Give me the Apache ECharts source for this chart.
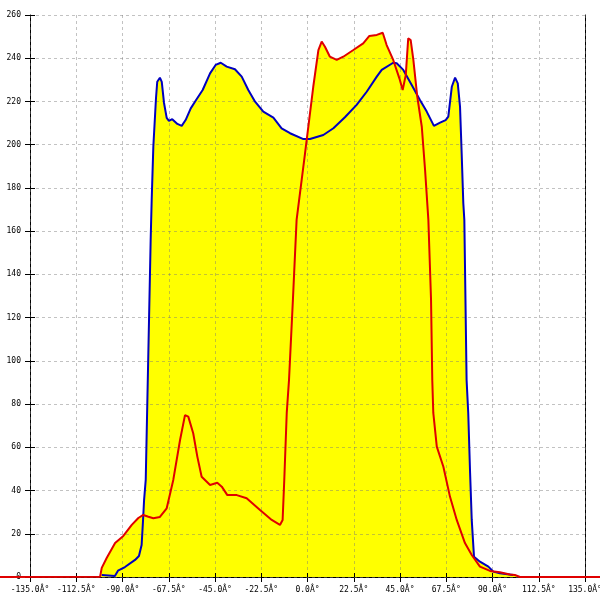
<!DOCTYPE html>
<html><head><meta charset="utf-8">
<script src="https://cdn.jsdelivr.net/npm/echarts@6/dist/echarts.min.js"></script>
<style>html,body{margin:0;padding:0;background:#fff}#c{width:600px;height:600px}</style>
</head><body><div id="c"></div>
<script>
// angle (deg) / intensity pairs
const blueSeries = [
[-100.1,0.9],[-93.7,0.5],[-92.2,2.9],[-88.8,4.6],[-83.9,7.9],[-82.0,9.7],[-80.7,14.8],[-80.0,26.4],[-79.5,35.6],[-78.7,44.9],
[-76.3,155.9],[-75.8,174.4],[-75.0,199.1],[-73.7,221.6],[-73.1,229.1],[-71.8,231.0],[-70.9,229.1],[-69.8,219.3],[-68.5,212.4],
[-67.4,211.0],[-65.8,211.8],[-63.3,209.6],[-61.2,208.7],[-59.3,211.4],[-56.8,216.8],[-54.2,220.7],[-51.0,225.3],[-47.4,233.0],
[-44.7,236.9],[-42.2,237.9],[-39.3,236.1],[-35.3,234.9],[-32.0,231.5],[-28.8,225.3],[-25.5,219.9],[-21.5,215.3],[-16.6,212.5],
[-12.6,207.6],[-8.5,205.3],[-2.0,202.6],[1.2,202.6],[7.7,204.5],[12.6,207.6],[18.2,212.7],[23.9,218.4],[28.8,224.5],[33.7,231.5],
[36.1,234.6],[41.7,237.9],[43.4,237.7],[46.6,234.6],[50.7,227.6],[54.7,220.7],[58.0,215.3],[61.5,208.7],[64.5,210.2],[67.2,211.4],
[68.5,213.0],[70.2,226.8],[71.8,231.0],[73.1,228.4],[74.2,217.6],[75.0,196.0],[75.8,172.9],[76.3,165.2],[77.4,91.1],[78.2,75.9],
[79.1,48.1],[79.9,26.4],[81.0,9.4],[83.9,7.1],[88.0,4.8],[90.4,2.5],[93.6,1.7],[100.1,0.9]
];
const redSeries = [
[-180,0],[-100.9,0.1],[-100.1,4.2],[-97.7,8.8],[-93.6,15.7],[-89.6,19.0],[-85.5,24.1],[-82.3,27.3],[-79.9,28.7],[-77.4,27.9],
[-75.0,27.2],[-71.8,27.8],[-68.5,31.8],[-65.3,44.9],[-62.0,63.4],[-59.6,74.9],[-58.0,74.2],[-55.6,66.5],[-53.6,55.7],[-51.5,46.4],
[-47.4,42.6],[-43.9,43.6],[-41.7,41.8],[-39.0,37.9],[-34.4,37.9],[-29.6,36.4],[-23.1,31.0],[-17.4,26.4],[-13.4,24.1],[-12.1,26.4],
[-11.3,44.9],[-10.1,75.9],[-9.0,91.1],[-7.1,128.2],[-5.3,165.2],[-1.2,196.0],[2.8,226.8],[5.3,243.8],[6.9,247.7],[8.5,245.3],
[10.9,240.7],[14.2,239.2],[17.4,240.7],[22.3,243.8],[27.1,246.9],[30.1,250.3],[33.7,250.8],[36.6,251.8],[38.5,246.1],[41.7,239.2],
[44.7,230.7],[46.3,225.3],[47.8,232.2],[49.0,249.2],[50.2,248.4],[51.5,239.2],[53.4,222.2],[55.6,208.3],[57.2,188.3],[58.8,165.2],
[60.1,128.2],[60.7,91.1],[61.2,75.9],[62.9,60.3],[66.1,51.0],[69.3,37.2],[72.6,26.4],[76.6,15.7],[79.9,10.2],[83.9,4.8],[88.8,2.8],
[93.6,2.2],[98.5,1.2],[100.9,0.9],[103.4,0],[180,0]
];
const xMin = -135, xMax = 135, xStep = 22.5;
const yMin = 0, yMax = 260, yStep = 20;
const xLabel = v => v.toFixed(1) + 'Â°';

// layout (pixels)
const W = 600, L = 30, R = 15, T = 15, B = 23;
const plotW = W - L - R;
const degPerPx = (xMax - xMin) / plotW;
// full-width overlay grid so the red trace runs edge to edge like the original
const fullMin = xMin - L * degPerPx, fullMax = xMax + R * degPerPx;

const font = {fontFamily:'DejaVu Sans Mono', fontSize:8, color:'#000'};
const gridDash = {show:true,lineStyle:{color:'rgba(120,120,120,0.45)',type:[3,3],width:1}};
const chart = echarts.init(document.getElementById('c'));
chart.setOption({
  animation:false,
  backgroundColor:'#fff',
  grid:[
    {left:L,right:R,top:T,bottom:B,containLabel:false,outerBoundsMode:'none'},
    {left:0,right:0,top:T,bottom:B,containLabel:false,outerBoundsMode:'none'}
  ],
  xAxis:[
    {gridIndex:0,type:'value',min:xMin,max:xMax,interval:xStep,position:'bottom',z:0,
     axisLine:{show:true,onZero:false,lineStyle:{color:'#000',width:1}},
     axisTick:{show:true,inside:false,length:5,lineStyle:{color:'#000'}},
     axisLabel:Object.assign({margin:9,formatter:xLabel,showMinLabel:true,showMaxLabel:true,hideOverlap:false},font),
     splitLine:{show:false}},
    {gridIndex:0,type:'value',min:xMin,max:xMax,interval:xStep,position:'bottom',z:3,
     axisLine:{show:false,onZero:false},
     axisTick:{show:true,inside:true,length:4,lineStyle:{color:'#000'}},
     axisLabel:{show:false},
     splitLine:gridDash},
    {gridIndex:1,type:'value',min:fullMin,max:fullMax,show:false}
  ],
  yAxis:[
    {gridIndex:0,type:'value',min:yMin,max:yMax,interval:yStep,position:'left',z:0,
     axisLine:{show:true,onZero:false,lineStyle:{color:'#000',width:1}},
     axisTick:{show:true,inside:false,length:5,lineStyle:{color:'#000'}},
     axisLabel:Object.assign({margin:9},font),
     splitLine:{show:false}},
    {gridIndex:0,type:'value',min:yMin,max:yMax,interval:yStep,position:'right',z:0,
     axisLine:{show:true,onZero:false,lineStyle:{color:'#000',width:1}},
     axisTick:{show:false},axisLabel:{show:false},splitLine:{show:false}},
    {gridIndex:0,type:'value',min:yMin,max:yMax,interval:yStep,position:'left',z:3,
     axisLine:{show:false,onZero:false},
     axisTick:{show:true,inside:true,length:5,lineStyle:{color:'#000'}},
     axisLabel:{show:false},
     splitLine:gridDash},
    {gridIndex:1,type:'value',min:yMin,max:yMax,show:false}
  ],
  series:[
    {type:'line',name:'blueFill',data:blueSeries,xAxisIndex:0,yAxisIndex:0,showSymbol:false,z:1,
     lineStyle:{width:0},areaStyle:{color:'#ffff00',opacity:1}},
    {type:'line',name:'redFill',data:redSeries,xAxisIndex:2,yAxisIndex:3,showSymbol:false,z:1,
     lineStyle:{width:0},areaStyle:{color:'#ffff00',opacity:1}},
    {type:'line',name:'blue',data:blueSeries,xAxisIndex:0,yAxisIndex:0,showSymbol:false,z:4,
     lineStyle:{color:'#0000c0',width:2}},
    {type:'line',name:'red',data:redSeries,xAxisIndex:2,yAxisIndex:3,showSymbol:false,z:5,
     lineStyle:{color:'#e00000',width:2}}
  ]
});
</script></body></html>
